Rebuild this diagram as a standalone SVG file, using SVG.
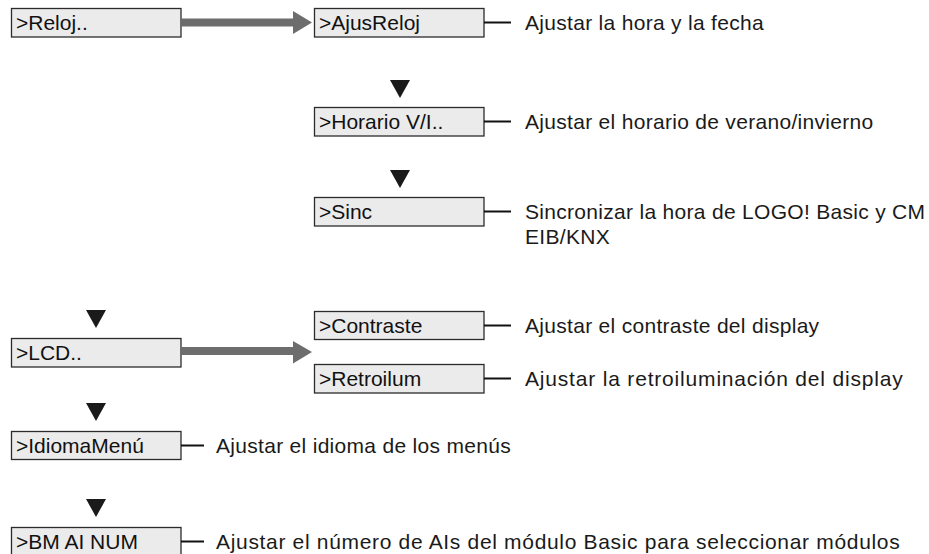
<svg xmlns="http://www.w3.org/2000/svg" width="929" height="554" viewBox="0 0 929 554">
<defs>
<style>
.box rect{fill:#ebebeb;stroke:#2b2b2b;stroke-width:1.3}
.box text{font-family:"Liberation Sans",Arial,sans-serif;font-size:21px;fill:#111}
.desc{font-family:"Liberation Sans",Arial,sans-serif;font-size:21px;letter-spacing:0.3px;fill:#1a1a1a}
.lead{stroke:#111;stroke-width:2}
.tri{fill:#1a1a1a}
.big{fill:#6d6d6d}
</style>
</defs>
<rect width="929" height="554" fill="#fff"/>
<g id="reloj" class="box"><rect x="11.5" y="8.5" width="169.5" height="28.5"/><text x="16" y="30">&gt;Reloj..</text></g>
<g id="ajusreloj" class="box"><rect x="314.5" y="8.5" width="169.5" height="28.5"/><text x="319" y="30">&gt;AjusReloj</text></g>
<g id="horario" class="box"><rect x="314.5" y="107.5" width="169.5" height="28.5"/><text x="319" y="129">&gt;Horario V/I..</text></g>
<g id="sinc" class="box"><rect x="314.5" y="197.5" width="169.5" height="28.5"/><text x="319" y="219">&gt;Sinc</text></g>
<g id="lcd" class="box"><rect x="11.5" y="338.5" width="169.5" height="28.5"/><text x="16" y="360">&gt;LCD..</text></g>
<g id="contraste" class="box"><rect x="314.5" y="311.5" width="169.5" height="28"/><text x="319" y="333">&gt;Contraste</text></g>
<g id="retroilum" class="box"><rect x="314.5" y="364.5" width="169.5" height="28.5"/><text x="319" y="386">&gt;Retroilum</text></g>
<g id="idioma" class="box"><rect x="11.5" y="431.5" width="169.5" height="28"/><text x="16" y="453">&gt;IdiomaMenú</text></g>
<g id="bmainum" class="box"><rect x="11.5" y="527.5" width="169.5" height="28"/><text x="16" y="549">&gt;BM AI NUM</text></g>
<g id="connectors">
<path class="big" d="M181 18.5H293V11L312 22.5L293 34V26.5H181Z"/>
<path class="big" d="M181 347H293V341L312 352L293 363.5V355H181Z"/>
<path class="tri" d="M390 80H410L400 98Z"/>
<path class="tri" d="M390 170H410L400 188Z"/>
<path class="tri" d="M86 310H106L96 328Z"/>
<path class="tri" d="M86 403H106L96 421Z"/>
<path class="tri" d="M86 499H106L96 517Z"/>
<line class="lead" x1="484" y1="22.5" x2="511" y2="22.5"/>
<line class="lead" x1="484" y1="121.5" x2="511" y2="121.5"/>
<line class="lead" x1="484" y1="211.5" x2="511" y2="211.5"/>
<line class="lead" x1="484" y1="325.5" x2="511" y2="325.5"/>
<line class="lead" x1="484" y1="378.5" x2="511" y2="378.5"/>
<line class="lead" x1="181" y1="445.5" x2="204" y2="445.5"/>
<line class="lead" x1="181" y1="541.5" x2="204" y2="541.5"/>
</g>
<g id="descriptions">
<text class="desc" x="525" y="30">Ajustar la hora y la fecha</text>
<text class="desc" x="525" y="129">Ajustar el horario de verano/invierno</text>
<text class="desc" x="525" y="219">Sincronizar la hora de LOGO! Basic y CM</text>
<text class="desc" x="525" y="244">EIB/KNX</text>
<text class="desc" x="525" y="333">Ajustar el contraste del display</text>
<text class="desc" x="525" y="386" textLength="378" lengthAdjust="spacing">Ajustar la retroiluminación del display</text>
<text class="desc" x="216" y="453">Ajustar el idioma de los menús</text>
<text class="desc" x="216" y="549" textLength="684" lengthAdjust="spacing">Ajustar el número de AIs del módulo Basic para seleccionar módulos</text>
</g>
</svg>
